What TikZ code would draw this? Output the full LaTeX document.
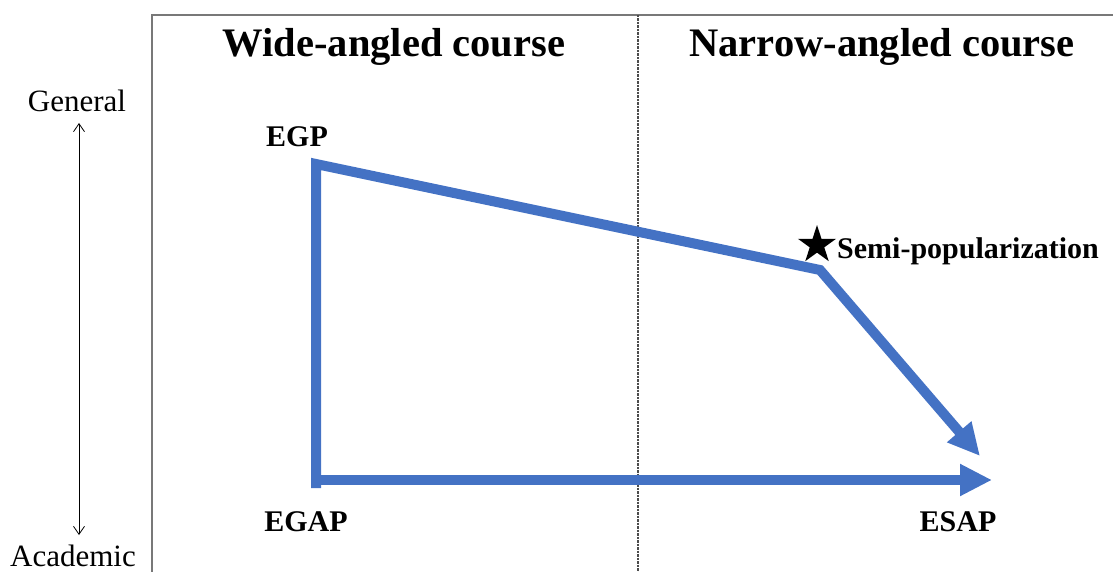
\documentclass[tikz,border=0pt]{standalone}
\usepackage{fontspec}
\setmainfont{Liberation Serif}
\usetikzlibrary{arrows.meta,shapes.geometric}
\definecolor{pathblue}{RGB}{68,114,196}
\definecolor{framegray}{RGB}{120,120,120}
\tikzset{
  framerule/.style={draw=framegray, line width=1.2pt},
  divider/.style={draw=black!70, line width=1.2pt, dash pattern=on 2.5pt off 1pt},
  bluepath/.style={draw=pathblue, line width=10pt, line join=miter},
  bluearrow/.style={bluepath, -{Triangle[length=32pt,width=30pt]}},
  axisarrow/.style={draw=black, line width=0.8pt, {Straight Barb[length=8pt,width=11pt]}-{Straight Barb[length=8pt,width=11pt]}},
  titletext/.style={font=\fontsize{40.5}{48}\selectfont\bfseries, inner sep=0pt},
  labeltext/.style={font=\fontsize{30}{36}\selectfont\bfseries, inner sep=0pt},
  axistext/.style={font=\fontsize{31}{36}\selectfont, inner sep=0pt},
  starmark/.style={star, star points=5, star point ratio=2.618, fill=black, inner sep=0pt, minimum size=40pt}
}
\begin{document}
\begin{tikzpicture}[x=1pt,y=-1pt]
\useasboundingbox (0,0) rectangle (1113,572);
% frame
\coordinate (tl) at (152,15);
\coordinate (tr) at (1113,15);
\coordinate (bl) at (152,572);
\coordinate (dt) at (638,15);
\coordinate (db) at (638,572);
\draw[framerule] (tr) -- (tl) -- (bl);
\draw[divider] (dt) -- (db);
% titles
\node[titletext] (wide) at (394,47) {Wide-angled course};
\node[titletext] (narrow) at (882,47) {Narrow-angled course};
% axis
\node[axistext] (general) at (77,101) {General};
\node[axistext] (academic) at (73,556) {Academic};
\coordinate (atop) at (79,123);
\coordinate (abot) at (79,535);
\draw[axisarrow] (abot) -- (atop);
% labels
\node[labeltext] (egp) at (297,137) {EGP};
\node[labeltext] (egap) at (306,522) {EGAP};
\node[labeltext] (esap) at (958,522) {ESAP};
\node[starmark] (star) at (817,245) {};
\node[labeltext, anchor=west] (semi) at (837,251) {Semi-popularization};
% blue paths
\coordinate (p0) at (316,488);
\coordinate (p1) at (316,164);
\coordinate (p2) at (820,270);
\coordinate (p3) at (980,456);
\coordinate (h0) at (316,480);
\coordinate (h1) at (992,480);
\draw[bluearrow] (p0) -- (p1) -- (p2) -- (p3);
\draw[bluearrow] (h0) -- (h1);
\end{tikzpicture}
\end{document}
